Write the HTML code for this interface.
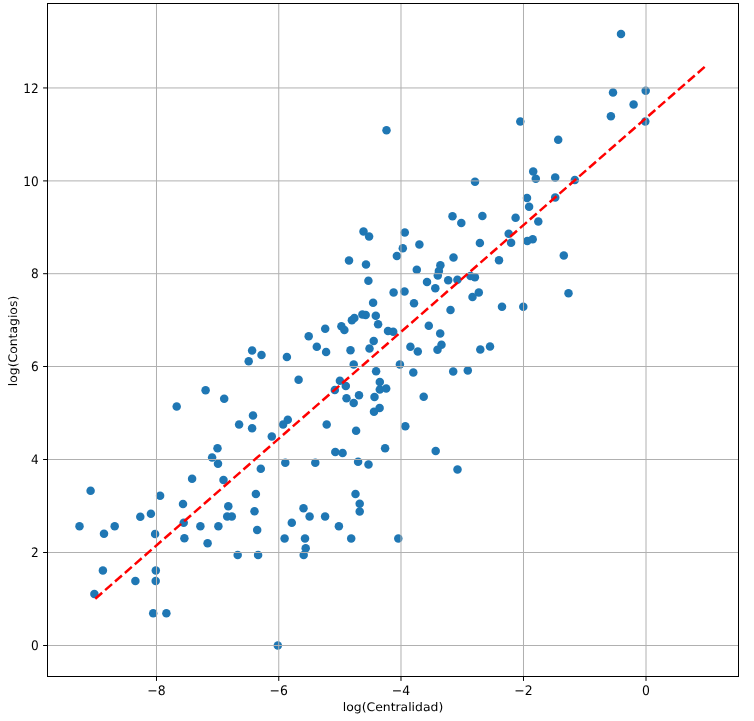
<!DOCTYPE html><html><head><meta charset="utf-8"><style>html,body{margin:0;padding:0;background:#fff;}svg{display:block;will-change:transform;}text{text-rendering:geometricPrecision;font-family:"DejaVu Sans","Liberation Sans",sans-serif;font-size:12.40px;fill:#000;}</style></head><body>
<svg width="754" height="721" viewBox="0 0 754 721">
<rect width="754" height="721" fill="#fff"/>
<g fill="#1f77b4">
<circle cx="176.70" cy="406.50" r="4.25"/>
<circle cx="90.60" cy="490.70" r="4.25"/>
<circle cx="160.10" cy="495.80" r="4.25"/>
<circle cx="183.00" cy="504.00" r="4.25"/>
<circle cx="140.30" cy="516.70" r="4.25"/>
<circle cx="150.90" cy="513.70" r="4.25"/>
<circle cx="79.50" cy="526.30" r="4.25"/>
<circle cx="114.70" cy="526.30" r="4.25"/>
<circle cx="104.00" cy="533.80" r="4.25"/>
<circle cx="155.10" cy="534.00" r="4.25"/>
<circle cx="183.70" cy="522.70" r="4.25"/>
<circle cx="184.40" cy="538.20" r="4.25"/>
<circle cx="102.90" cy="570.60" r="4.25"/>
<circle cx="155.80" cy="570.60" r="4.25"/>
<circle cx="135.40" cy="581.10" r="4.25"/>
<circle cx="155.70" cy="581.10" r="4.25"/>
<circle cx="94.40" cy="594.10" r="4.25"/>
<circle cx="153.20" cy="613.20" r="4.25"/>
<circle cx="166.40" cy="613.20" r="4.25"/>
<circle cx="228.30" cy="506.30" r="4.25"/>
<circle cx="254.50" cy="511.20" r="4.25"/>
<circle cx="303.50" cy="508.30" r="4.25"/>
<circle cx="227.20" cy="516.60" r="4.25"/>
<circle cx="231.80" cy="516.60" r="4.25"/>
<circle cx="200.40" cy="526.30" r="4.25"/>
<circle cx="218.40" cy="526.30" r="4.25"/>
<circle cx="291.80" cy="522.70" r="4.25"/>
<circle cx="257.20" cy="529.90" r="4.25"/>
<circle cx="207.60" cy="543.30" r="4.25"/>
<circle cx="284.60" cy="538.40" r="4.25"/>
<circle cx="305.00" cy="538.40" r="4.25"/>
<circle cx="305.70" cy="548.30" r="4.25"/>
<circle cx="237.70" cy="555.00" r="4.25"/>
<circle cx="258.10" cy="555.00" r="4.25"/>
<circle cx="303.70" cy="555.00" r="4.25"/>
<circle cx="309.60" cy="516.60" r="4.25"/>
<circle cx="325.10" cy="516.60" r="4.25"/>
<circle cx="359.70" cy="503.80" r="4.25"/>
<circle cx="359.70" cy="511.40" r="4.25"/>
<circle cx="338.90" cy="526.30" r="4.25"/>
<circle cx="351.20" cy="538.40" r="4.25"/>
<circle cx="398.30" cy="538.40" r="4.25"/>
<circle cx="277.80" cy="645.50" r="4.25"/>
<circle cx="205.60" cy="390.30" r="4.25"/>
<circle cx="224.20" cy="398.80" r="4.25"/>
<circle cx="253.00" cy="415.50" r="4.25"/>
<circle cx="239.10" cy="424.50" r="4.25"/>
<circle cx="252.10" cy="428.30" r="4.25"/>
<circle cx="287.80" cy="419.70" r="4.25"/>
<circle cx="283.10" cy="424.50" r="4.25"/>
<circle cx="271.80" cy="436.40" r="4.25"/>
<circle cx="217.50" cy="448.20" r="4.25"/>
<circle cx="212.10" cy="457.50" r="4.25"/>
<circle cx="218.00" cy="463.80" r="4.25"/>
<circle cx="260.80" cy="468.70" r="4.25"/>
<circle cx="285.30" cy="462.80" r="4.25"/>
<circle cx="192.10" cy="478.80" r="4.25"/>
<circle cx="223.50" cy="480.10" r="4.25"/>
<circle cx="255.90" cy="494.00" r="4.25"/>
<circle cx="334.80" cy="390.00" r="4.25"/>
<circle cx="345.80" cy="386.10" r="4.25"/>
<circle cx="346.50" cy="398.20" r="4.25"/>
<circle cx="359.00" cy="395.30" r="4.25"/>
<circle cx="353.70" cy="402.90" r="4.25"/>
<circle cx="379.80" cy="389.50" r="4.25"/>
<circle cx="386.20" cy="388.50" r="4.25"/>
<circle cx="374.50" cy="396.90" r="4.25"/>
<circle cx="379.60" cy="408.10" r="4.25"/>
<circle cx="374.00" cy="411.80" r="4.25"/>
<circle cx="423.70" cy="396.80" r="4.25"/>
<circle cx="326.70" cy="424.50" r="4.25"/>
<circle cx="356.10" cy="430.70" r="4.25"/>
<circle cx="405.30" cy="426.20" r="4.25"/>
<circle cx="335.30" cy="452.10" r="4.25"/>
<circle cx="342.60" cy="453.00" r="4.25"/>
<circle cx="385.10" cy="448.20" r="4.25"/>
<circle cx="315.30" cy="462.80" r="4.25"/>
<circle cx="358.10" cy="461.70" r="4.25"/>
<circle cx="368.50" cy="464.40" r="4.25"/>
<circle cx="355.50" cy="494.00" r="4.25"/>
<circle cx="435.70" cy="450.90" r="4.25"/>
<circle cx="457.50" cy="469.60" r="4.25"/>
<circle cx="252.10" cy="350.50" r="4.25"/>
<circle cx="261.50" cy="355.00" r="4.25"/>
<circle cx="248.70" cy="361.20" r="4.25"/>
<circle cx="286.90" cy="357.00" r="4.25"/>
<circle cx="298.60" cy="379.80" r="4.25"/>
<circle cx="349.00" cy="260.40" r="4.25"/>
<circle cx="366.00" cy="264.60" r="4.25"/>
<circle cx="396.90" cy="255.90" r="4.25"/>
<circle cx="416.80" cy="269.80" r="4.25"/>
<circle cx="368.40" cy="280.70" r="4.25"/>
<circle cx="427.00" cy="282.10" r="4.25"/>
<circle cx="393.60" cy="292.60" r="4.25"/>
<circle cx="404.50" cy="291.60" r="4.25"/>
<circle cx="373.10" cy="302.80" r="4.25"/>
<circle cx="414.00" cy="303.20" r="4.25"/>
<circle cx="362.40" cy="314.60" r="4.25"/>
<circle cx="365.70" cy="314.90" r="4.25"/>
<circle cx="351.90" cy="320.30" r="4.25"/>
<circle cx="354.40" cy="318.00" r="4.25"/>
<circle cx="375.80" cy="315.80" r="4.25"/>
<circle cx="378.10" cy="324.20" r="4.25"/>
<circle cx="341.40" cy="326.20" r="4.25"/>
<circle cx="344.40" cy="330.00" r="4.25"/>
<circle cx="388.00" cy="331.10" r="4.25"/>
<circle cx="393.20" cy="331.80" r="4.25"/>
<circle cx="428.80" cy="325.70" r="4.25"/>
<circle cx="325.20" cy="328.70" r="4.25"/>
<circle cx="308.70" cy="336.30" r="4.25"/>
<circle cx="316.80" cy="346.70" r="4.25"/>
<circle cx="326.10" cy="352.00" r="4.25"/>
<circle cx="350.50" cy="350.30" r="4.25"/>
<circle cx="373.70" cy="341.10" r="4.25"/>
<circle cx="369.50" cy="348.50" r="4.25"/>
<circle cx="353.70" cy="364.60" r="4.25"/>
<circle cx="399.90" cy="364.40" r="4.25"/>
<circle cx="410.40" cy="346.70" r="4.25"/>
<circle cx="417.80" cy="351.50" r="4.25"/>
<circle cx="376.10" cy="371.20" r="4.25"/>
<circle cx="413.30" cy="372.40" r="4.25"/>
<circle cx="339.90" cy="380.70" r="4.25"/>
<circle cx="379.80" cy="381.90" r="4.25"/>
<circle cx="363.50" cy="231.60" r="4.25"/>
<circle cx="369.10" cy="236.50" r="4.25"/>
<circle cx="404.80" cy="232.50" r="4.25"/>
<circle cx="419.40" cy="244.60" r="4.25"/>
<circle cx="402.80" cy="248.20" r="4.25"/>
<circle cx="386.50" cy="130.25" r="4.25"/>
<circle cx="533.20" cy="171.40" r="4.25"/>
<circle cx="535.80" cy="178.80" r="4.25"/>
<circle cx="475.00" cy="181.80" r="4.25"/>
<circle cx="527.00" cy="197.90" r="4.25"/>
<circle cx="529.10" cy="206.80" r="4.25"/>
<circle cx="452.50" cy="216.30" r="4.25"/>
<circle cx="461.30" cy="222.90" r="4.25"/>
<circle cx="482.40" cy="216.10" r="4.25"/>
<circle cx="515.60" cy="217.70" r="4.25"/>
<circle cx="538.30" cy="221.50" r="4.25"/>
<circle cx="508.70" cy="233.80" r="4.25"/>
<circle cx="511.10" cy="242.80" r="4.25"/>
<circle cx="527.30" cy="241.00" r="4.25"/>
<circle cx="532.70" cy="239.20" r="4.25"/>
<circle cx="479.90" cy="243.00" r="4.25"/>
<circle cx="453.50" cy="257.60" r="4.25"/>
<circle cx="499.00" cy="260.30" r="4.25"/>
<circle cx="440.40" cy="265.30" r="4.25"/>
<circle cx="438.90" cy="270.90" r="4.25"/>
<circle cx="437.80" cy="275.40" r="4.25"/>
<circle cx="435.30" cy="288.30" r="4.25"/>
<circle cx="448.20" cy="280.30" r="4.25"/>
<circle cx="457.40" cy="279.70" r="4.25"/>
<circle cx="470.50" cy="275.90" r="4.25"/>
<circle cx="474.90" cy="277.30" r="4.25"/>
<circle cx="478.80" cy="292.40" r="4.25"/>
<circle cx="472.50" cy="297.00" r="4.25"/>
<circle cx="450.50" cy="310.00" r="4.25"/>
<circle cx="502.00" cy="306.80" r="4.25"/>
<circle cx="523.30" cy="306.80" r="4.25"/>
<circle cx="440.20" cy="333.60" r="4.25"/>
<circle cx="441.50" cy="344.70" r="4.25"/>
<circle cx="437.50" cy="349.80" r="4.25"/>
<circle cx="480.30" cy="349.50" r="4.25"/>
<circle cx="490.00" cy="346.50" r="4.25"/>
<circle cx="453.20" cy="371.40" r="4.25"/>
<circle cx="467.80" cy="370.60" r="4.25"/>
<circle cx="555.20" cy="177.60" r="4.25"/>
<circle cx="574.80" cy="180.00" r="4.25"/>
<circle cx="555.20" cy="197.40" r="4.25"/>
<circle cx="563.80" cy="255.40" r="4.25"/>
<circle cx="621.00" cy="34.10" r="4.25"/>
<circle cx="613.00" cy="92.50" r="4.25"/>
<circle cx="645.70" cy="90.80" r="4.25"/>
<circle cx="633.60" cy="104.60" r="4.25"/>
<circle cx="610.90" cy="116.30" r="4.25"/>
<circle cx="645.30" cy="121.50" r="4.25"/>
<circle cx="520.30" cy="121.50" r="4.25"/>
<circle cx="558.20" cy="139.70" r="4.25"/>
<circle cx="568.50" cy="293.30" r="4.25"/>
</g>
<g stroke="#b0b0b0" stroke-width="1.0">
<line x1="156.49" y1="3.50" x2="156.49" y2="676.50"/>
<line x1="278.76" y1="3.50" x2="278.76" y2="676.50"/>
<line x1="400.99" y1="3.50" x2="400.99" y2="676.50"/>
<line x1="523.49" y1="3.50" x2="523.49" y2="676.50"/>
<line x1="646.00" y1="3.50" x2="646.00" y2="676.50"/>
<line x1="47.50" y1="645.50" x2="738.50" y2="645.50"/>
<line x1="47.50" y1="552.50" x2="738.50" y2="552.50"/>
<line x1="47.50" y1="459.50" x2="738.50" y2="459.50"/>
<line x1="47.50" y1="366.50" x2="738.50" y2="366.50"/>
<line x1="47.50" y1="273.70" x2="738.50" y2="273.70"/>
<line x1="47.50" y1="180.90" x2="738.50" y2="180.90"/>
<line x1="47.50" y1="87.95" x2="738.50" y2="87.95"/>
</g>
<line x1="95.26" y1="598.80" x2="706.86" y2="65.00" stroke="#ff0000" stroke-width="2.5" stroke-dasharray="9.15 3.96" />
<rect x="47.50" y="3.50" width="691.00" height="673.00" fill="none" stroke="#000" stroke-width="1.0"/>
<g stroke="#000" stroke-width="1.0">
<line x1="156.49" y1="676.50" x2="156.49" y2="680.90"/>
<line x1="278.76" y1="676.50" x2="278.76" y2="680.90"/>
<line x1="400.99" y1="676.50" x2="400.99" y2="680.90"/>
<line x1="523.49" y1="676.50" x2="523.49" y2="680.90"/>
<line x1="646.00" y1="676.50" x2="646.00" y2="680.90"/>
<line x1="43.10" y1="645.50" x2="47.50" y2="645.50"/>
<line x1="43.10" y1="552.50" x2="47.50" y2="552.50"/>
<line x1="43.10" y1="459.50" x2="47.50" y2="459.50"/>
<line x1="43.10" y1="366.50" x2="47.50" y2="366.50"/>
<line x1="43.10" y1="273.70" x2="47.50" y2="273.70"/>
<line x1="43.10" y1="180.90" x2="47.50" y2="180.90"/>
<line x1="43.10" y1="87.95" x2="47.50" y2="87.95"/>
</g>
<text transform="translate(156.49,694.60) scale(0.940,1)" text-anchor="middle" style="font-size:13.20px">−8</text>
<text transform="translate(278.76,694.60) scale(0.940,1)" text-anchor="middle" style="font-size:13.20px">−6</text>
<text transform="translate(400.99,694.60) scale(0.940,1)" text-anchor="middle" style="font-size:13.20px">−4</text>
<text transform="translate(523.49,694.60) scale(0.940,1)" text-anchor="middle" style="font-size:13.20px">−2</text>
<text transform="translate(646.00,694.60) scale(0.940,1)" text-anchor="middle" style="font-size:13.20px">0</text>
<text transform="translate(38.70,650.10) scale(0.970,1.045)" text-anchor="end" style="font-size:12.50px">0</text>
<text transform="translate(38.70,557.10) scale(0.970,1.045)" text-anchor="end" style="font-size:12.50px">2</text>
<text transform="translate(38.70,464.10) scale(0.970,1.045)" text-anchor="end" style="font-size:12.50px">4</text>
<text transform="translate(38.70,371.10) scale(0.970,1.045)" text-anchor="end" style="font-size:12.50px">6</text>
<text transform="translate(38.70,278.30) scale(0.970,1.045)" text-anchor="end" style="font-size:12.50px">8</text>
<text transform="translate(38.70,185.50) scale(0.970,1.045)" text-anchor="end" style="font-size:12.50px">10</text>
<text transform="translate(38.70,92.55) scale(0.970,1.045)" text-anchor="end" style="font-size:12.50px">12</text>
<text transform="translate(393,711.2) scale(1,0.95)" text-anchor="middle">log(Centralidad)</text>
<text transform="translate(16.7,341.0) rotate(-90) scale(1,0.95)" text-anchor="middle">log(Contagios)</text>
</svg></body></html>
